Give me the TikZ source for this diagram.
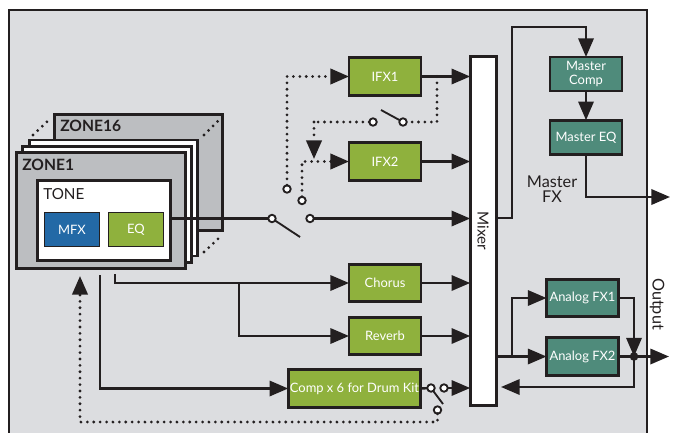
\documentclass[tikz,border=0pt]{standalone}
\usepackage{fontspec}
\setmainfont{Lato}
\usetikzlibrary{arrows.meta,calc}
\definecolor{ink}{HTML}{231F20}
\definecolor{panel}{HTML}{DCDDE0}
\definecolor{zonegray}{HTML}{BCBEC1}
\definecolor{fxgreen}{HTML}{8FB13D}
\definecolor{fxteal}{HTML}{4F8B7B}
\definecolor{fxblue}{HTML}{2369A6}
\tikzset{
  x=0.75pt,y=-0.75pt,
  tip/.style={-{Triangle[length=14pt,width=11.5pt]}},
  wire/.style={draw=ink,line width=1.8pt,line join=miter},
  conn/.style={wire,tip},
  dots/.style={draw=ink,line width=2.3pt,line cap=round,dash pattern=on 0pt off 4.8pt},
  dotconn/.style={dots,tip},
  box/.style={draw=ink,line width=2.2pt,outer sep=0pt,inner sep=0pt,text=white,align=center,font=\fontsize{9.7}{11}\selectfont},
  green/.style={box,fill=fxgreen,minimum height=28pt,minimum width=54pt},
  teal/.style={box,fill=fxteal,minimum width=54pt},
  zone/.style={draw=ink,line width=2.2pt,outer sep=0pt,inner sep=0pt,minimum width=126.5pt,minimum height=87pt},
  term/.style={circle,draw=ink,fill=white,line width=1.4pt,minimum size=5.6pt,inner sep=0pt,outer sep=0pt},
  arm/.style={draw=ink,line width=1.4pt},
  lab/.style={text=ink,font=\fontsize{12.2}{11.5}\selectfont,align=center,inner sep=0pt},
  slab/.style={text=ink,font=\fontsize{11.4}{11.5}\selectfont,align=center,inner sep=0pt},
  zlab/.style={text=ink,font=\fontsize{11.7}{12}\selectfont\bfseries,inner sep=0pt,anchor=west},
}
\begin{document}
\begin{tikzpicture}
\useasboundingbox (0,0) rectangle (673,432);
\clip (0,0) rectangle (673,432);
\fill[white] (0,0) rectangle (673,432);
\draw[draw=ink,fill=panel,line width=2.2pt] (9,10) rectangle (647,450);

% zone stack
\node[zone,fill=zonegray] (z16) at (138.5,172.5) {};
\node[zlab] at (60,126) {ZONE16};
\node[zone,fill=white] (z3) at (113.5,198) {};
\node[zone,fill=white] (z2) at (107,204.5) {};
\node[zone,fill=zonegray] (z1) at (101,210.5) {};
\node[zlab] at (22,165) {ZONE1};
\node[draw=ink,fill=white,line width=2.2pt,minimum width=100pt,minimum height=60.5pt,outer sep=0pt,inner sep=0pt] (tone) at (104,220.5) {};
\node[slab,anchor=west] at (43,194.5) {TONE};
\node[box,fill=fxblue,line width=1.2pt,minimum width=41pt,minimum height=25.5pt] (mfx) at (72,229.5) {MFX};
\node[box,fill=fxgreen,line width=1.2pt,minimum width=41pt,minimum height=25.5pt] (eq) at (136,229.5) {EQ};
\coordinate (d1a) at (33,135); \coordinate (d1b) at (51,118);
\coordinate (d2a) at (204,135); \coordinate (d2b) at (221,118);
\coordinate (d3a) at (204,252); \coordinate (d3b) at (221,236);
\draw[dots] (d1a) -- (d1b);
\draw[dots] (d2a) -- (d2b);
\draw[dots] (d3a) -- (d3b);

% mixer and effect boxes
\node[draw=ink,fill=white,line width=2.2pt,minimum width=20pt,minimum height=261.5pt,outer sep=0pt,inner sep=0pt] (mixer) at (483.5,231) {};
\node[slab,rotate=-90] at (483,231) {Mixer};
\node[green] (ifx1) at (385,76.5) {IFX1};
\node[green] (ifx2) at (385,161.5) {IFX2};
\node[green] (chorus) at (385,283) {Chorus};
\node[green] (reverb) at (385,336) {Reverb};
\node[green,minimum width=99.5pt] (comp) at (354.5,388.5) {Comp x 6 for Drum Kit};
\node[teal,minimum height=25.5pt] (mcomp) at (586,74) {Master\\Comp};
\node[teal,minimum height=26pt] (meq) at (586,137.5) {Master EQ};
\node[teal,minimum height=28pt] (afx1) at (582.5,298) {Analog FX1};
\node[teal,minimum height=28pt] (afx2) at (582.5,356.5) {Analog FX2};
\node[lab] at (552,189.5) {Master\\FX};
\node[lab,rotate=-90] at (657,304) {Output};

% switch terminals
\node[term] (swa) at (272,218.5) {};
\node[term] (swb) at (310,218.5) {};
\node[term] (swc) at (287,189) {};
\node[term] (swd) at (302,200.5) {};
\node[term] (swe) at (403,122) {};
\node[term] (swf) at (373,122) {};
\node[term] (swg) at (431,388) {};
\node[term] (swh) at (444,388) {};
\node[term] (swi) at (437.5,410) {};
\coordinate (arma) at (300,237);
\coordinate (armb) at (381,110);
\coordinate (armc) at (443,404);
\draw[arm] (swa) -- (arma);
\draw[arm] (swe) -- (armb);
\draw[arm] (swg) -- (armc);

% signal wires
\draw[wire] (tone.east |- swa) -- (swa);
\draw[conn] (swb) -- (swb -| mixer.west);
\draw[conn] (ifx1) -- (ifx1 -| mixer.west);
\draw[conn] (ifx2) -- (ifx2 -| mixer.west);
\draw[conn] (chorus) -- (chorus -| mixer.west);
\draw[conn] (reverb) -- (reverb -| mixer.west);
\draw[conn] (swh) -- (swh -| mixer.west);
\coordinate (ztop) at (115,274);
\coordinate (zdry) at (100,275);
\coordinate (branch) at (239,283);
\draw[conn] (ztop) |- (chorus.west);
\draw[conn] (branch) |- (reverb.west);
\draw[conn] (zdry) |- (comp.west);
\draw[wire] (comp.east) -- (swg);

% dotted sends
\draw[dotconn] (swc) |- (ifx1.west);
\draw[dotconn] (swd) |- (ifx2.west);
\coordinate (tapa) at (437,76.5);
\draw[dots] (tapa) |- (swe);
\coordinate (ret) at (314,122);
\coordinate (retb) at (314,159);
\draw[dots] (swf) -- (ret);
\draw[dotconn] (ret) -- (retb);
\coordinate (lp) at (80,276);
\coordinate (lc) at (80,422);
\coordinate (ld) at (437.5,422);
\draw[dotconn] (swi) -- (ld) -- (lc) -- (lp);

% master FX
\coordinate (mo) at (mixer.east |- 0,218);
\coordinate (mu) at (512,218);
\coordinate (mt) at (512,27);
\coordinate (mr) at (586,27);
\draw[conn] (mo) -- (mu) -- (mt) -- (mr) -- (mcomp.north);
\draw[conn] (mcomp) -- (meq);
\coordinate (mout) at (670,197);
\draw[conn] (meq) |- (mout);

% analog FX
\coordinate (sumdot) at (634,356.5);
\draw[conn] (afx2 -| mixer.east) -- (afx2.west);
\coordinate (split) at (512,356.5);
\draw[conn] (split) |- (afx1.west);
\draw[conn] (afx1.east) -| (sumdot);
\coordinate (aout) at (669,356.5);
\draw[conn] (afx2.east) -- (aout);
\coordinate (back) at (634,387);
\coordinate (backend) at (501,387);
\draw[conn] (sumdot) -- (back) -- (backend);
\node[circle,fill=ink,minimum size=6.5pt,inner sep=0pt] (sumnode) at (sumdot) {};
\end{tikzpicture}
\end{document}
